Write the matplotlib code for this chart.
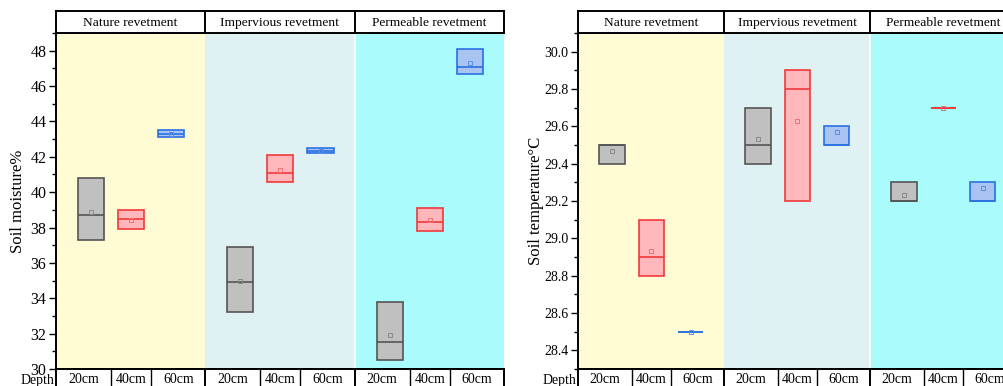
import numpy as np
import matplotlib
matplotlib.use("Agg")
import matplotlib.pyplot as plt
from matplotlib.ticker import MultipleLocator

plt.rcParams['font.family'] = ['Liberation Serif', 'DejaVu Serif']

groups = ["Nature revetment", "Impervious revetment", "Permeable revetment"]
depths = ["20cm", "40cm", "60cm"]

# values in order: nature 20/40/60, impervious 20/40/60, permeable 20/40/60
moist_low = [37.3, 37.9, 43.1, 33.2, 40.6, 42.2, 30.5, 37.8, 46.7]
moist_high = [40.8, 39.0, 43.5, 36.9, 42.1, 42.5, 33.8, 39.1, 48.1]
moist_med = [38.7, 38.5, 43.3, 34.9, 41.1, 42.35, 31.5, 38.3, 47.1]
moist_mean = [38.9, 38.45, 43.3, 35.0, 41.25, 42.35, 31.9, 38.4, 47.3]

temp_low = [29.4, 28.8, 28.5, 29.4, 29.2, 29.5, 29.2, 29.7, 29.2]
temp_high = [29.5, 29.1, 28.5, 29.7, 29.9, 29.6, 29.3, 29.7, 29.3]
temp_med = [29.5, 28.9, 28.5, 29.5, 29.8, 29.5, 29.2, 29.7, 29.2]
temp_mean = [29.47, 28.93, 28.5, 29.53, 29.63, 29.57, 29.23, 29.7, 29.27]

band_colors = ["#fffbd5", "#dff1f3", "#aafcfc"]
face_colors = ["#c0c0c0", "#ffb7bb", "#aac4f2"]
edge_colors = ["#555555", "#f03a3a", "#2a72e0"]
mean_colors = ["#888888", "#f07070", "#5a8ee8"]

GW = 3.72      # width of one group in data units
OFF = 0.87     # offset of first box inside a group
BW = 0.65      # box width


def draw_panel(fig, left_px, width_px, low, high, med, mean, ylim, major, minor,
               ylabel, ylabel_x, fmt, ticksize):
    W, H = 1004.0, 386.0
    top_px, bot_px = 33, 369
    ax = fig.add_axes([left_px / W, (H - bot_px) / H, width_px / W, (bot_px - top_px) / H])
    xmax = 3 * GW
    for g in range(3):
        ax.axvspan(g * GW, (g + 1) * GW, color=band_colors[g], lw=0, zorder=0)
    ax.axvline(2 * GW, color="white", lw=1.2, zorder=1)

    for g in range(3):
        for d in range(3):
            i = g * 3 + d
            x = g * GW + OFF + d
            ax.bar(x, high[i] - low[i], bottom=low[i], width=BW, color=face_colors[d],
                   edgecolor=edge_colors[d], linewidth=1.2, zorder=3)
            ax.hlines(med[i], x - BW / 2, x + BW / 2, color=edge_colors[d], lw=1.2, zorder=4)
            ax.plot(x, mean[i], marker="s", ms=3.5, mfc="none", mec=mean_colors[d], mew=0.7, zorder=5)

    ax.set_xlim(0, xmax)
    ax.set_ylim(*ylim)
    ax.set_xticks([])
    ax.yaxis.set_major_locator(MultipleLocator(major))
    ax.yaxis.set_minor_locator(MultipleLocator(minor))
    ax.yaxis.set_major_formatter(plt.FormatStrFormatter(fmt))
    ax.tick_params(axis="y", which="major", direction="out", length=5, width=1, pad=2, labelsize=ticksize)
    ax.tick_params(axis="y", which="minor", direction="out", length=3, width=1)
    ax.spines["right"].set_visible(False)
    for s in ["left", "top", "bottom"]:
        ax.spines[s].set_linewidth(1.4)
    fig.text(ylabel_x / W, (H - 201) / H, ylabel, rotation=90, ha="center", va="center", fontsize=12)

    # header row
    hx = fig.add_axes([left_px / W, (H - top_px) / H, width_px / W, 22 / H])
    hx.set_xlim(0, xmax)
    hx.set_ylim(0, 1)
    hx.set_xticks([])
    hx.set_yticks([])
    for s in hx.spines.values():
        s.set_linewidth(1.4)
    for g in range(3):
        if g > 0:
            hx.axvline(g * GW, color="black", lw=1.4)
        hx.text(g * GW + GW / 2, 0.47, groups[g], ha="center", va="center", fontsize=9.7)

    # depth row
    dx = fig.add_axes([left_px / W, (H - 390) / H, width_px / W, 21 / H])
    dx.set_xlim(0, xmax)
    dx.set_ylim(0, 1)
    dx.set_xticks([])
    dx.set_yticks([])
    for s in dx.spines.values():
        s.set_linewidth(1.4)
    for g in range(3):
        if g > 0:
            dx.axvline(g * GW, color="black", lw=1.4)
        dx.axvline(g * GW + OFF + 0.5, color="black", lw=1.0)
        dx.axvline(g * GW + OFF + 1.5, color="black", lw=1.0)
        for d in range(3):
            c0 = g * GW if d == 0 else g * GW + OFF + d - 0.5
            c1 = (g + 1) * GW if d == 2 else g * GW + OFF + d + 0.5
            dx.text((c0 + c1) / 2, 0.5, depths[d], ha="center", va="center", fontsize=10)
    dx.text(-0.004, 0.45, "Depth", transform=dx.transAxes, ha="right", va="center", fontsize=10)
    return ax


fig = plt.figure(figsize=(10.04, 3.86), dpi=100)
draw_panel(fig, 56, 448, moist_low, moist_high, moist_med, moist_mean, (30, 49), 2, 1,
           "Soil moisture%", 18, "%d", 11.5)
draw_panel(fig, 578, 438, temp_low, temp_high, temp_med, temp_mean, (28.3, 30.1), 0.2, 0.1,
           "Soil temperature°C", 536, "%.1f", 10)
fig.savefig("out.png", dpi=100)
